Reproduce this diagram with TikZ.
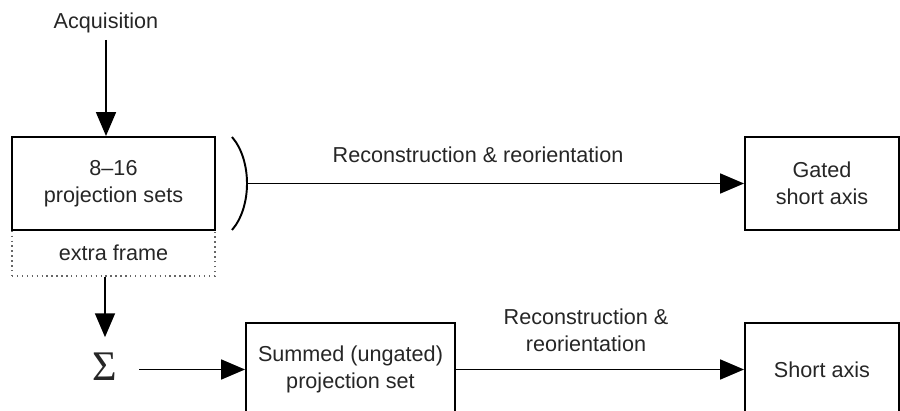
\documentclass[tikz,border=0pt]{standalone}
\usepackage{fontspec}
\setmainfont{Liberation Sans}
\newfontfamily\sigmafont{Liberation Serif}
\usetikzlibrary{arrows.meta}

\tikzset{
  flowbox/.style={draw, align=center, minimum height=1.86cm},
  extrabox/.style={draw=black!60, dotted, line width=0.8pt, minimum width=4.06cm, minimum height=0.92cm},
  flowarrow/.style={-{Triangle[length=13.6pt,width=11.3pt]}},
}

\begin{document}
\begin{tikzpicture}[x=0.02cm, y=-0.02cm, line width=1.1pt,
    font=\fontsize{12.3}{15.5}\selectfont, text=black!85]
  \clip (0,0) rectangle (900,411);
  % left column
  \node (acq) at (106,23) {Acquisition};
  \node[extrabox] (extra) at (113.5,253) {extra frame};
  \node[flowbox, minimum width=4.06cm] (sets) at (113.5,183.5) {8--16\\projection sets};
  \node[inner xsep=0.42cm, inner ysep=0.3cm, font=\sigmafont\fontsize{24}{24}\selectfont] (sum) at (105,367) {Σ};
  % right boxes
  \node[flowbox, minimum width=4.18cm] (summed) at (350.5,369.5) {Summed (ungated)\\projection set};
  \node[flowbox, minimum width=3.08cm] (gated) at (822,183.5) {Gated\\short axis};
  \node[flowbox, minimum width=3.08cm] (short) at (822,369.5) {Short axis};
  % labels
  \node (rr) at (478,155) {Reconstruction \& reorientation};
  \node[align=center] (rr2) at (586,330) {Reconstruction \&\\reorientation};
  % bracket
  \coordinate (brk) at (247,183.5);
  \draw (232,137) .. controls (252,160) and (252,207) .. (232,230);
  % arrows
  \draw[flowarrow] (acq) -- (acq |- sets.north);
  \draw[flowarrow] (extra.south -| sum) -- (sum.north);
  \draw[flowarrow] (sum.east |- summed) -- (summed.west);
  \draw[flowarrow] (brk) -- (gated.west);
  \draw[flowarrow] (summed.east) -- (short.west);
\end{tikzpicture}
\end{document}
